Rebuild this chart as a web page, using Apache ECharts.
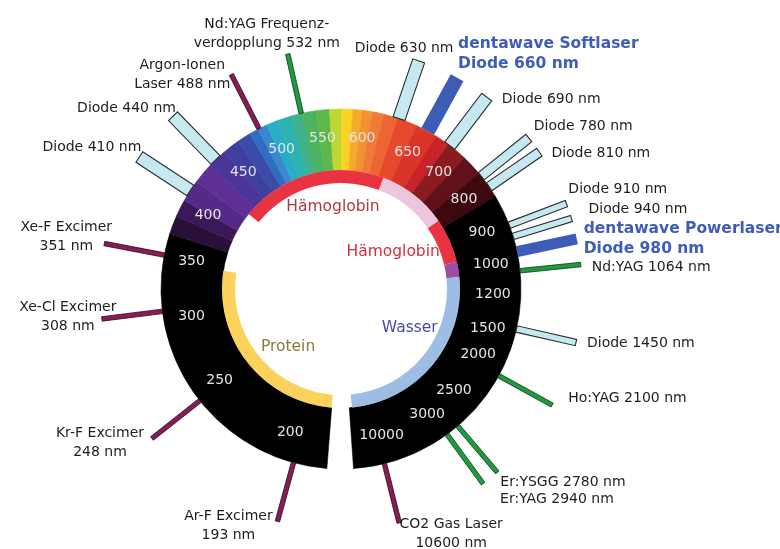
<!DOCTYPE html>
<html><head><meta charset="utf-8">
<script src="https://cdn.jsdelivr.net/npm/echarts@6/dist/echarts.min.js"></script>
<style>html,body{margin:0;padding:0;background:#fff}#c{width:780px;height:549px}</style>
</head><body><div id="c"></div>
<script>
// ---------------- data ----------------
const tickLabels = [200,250,300,350,400,450,500,550,600,650,700,800,900,1000,1200,1500,2000,2500,3000,10000];
const ringRange = [175, 14500];
const spectrumStops = [370,386,401,418,434,449,465,478,487,496,507,522,533,547,561,574,586,596,606,616,629,647,671,688,723,771,836];
const spectrumColors = ['#2a0f36','#3c1858','#552a86','#5e2f95','#4c3598','#3f3f9f','#3a4ba8','#2f6dc0','#3a87cf','#28adc6','#2cb3ad','#40b188','#4cb45e','#5cb84b','#bcd636','#fad224','#f6aa2b','#f39231','#f07a37','#ed6632','#e6492b','#db3429','#c9232a','#8a1b1e','#62101a','#3d0810'];
const bandNames = ['Hämoglobin','','Hämoglobin','','Wasser','Protein'];
const bandStart = [424, 636, 807, 970, 1064, 175];
const bandEnd   = [636, 807, 970, 1064, 14000, 346];
const laserNames = ['Ar-F Excimer\n193 nm','Kr-F Excimer\n248 nm','Xe-Cl Excimer\n308 nm','Xe-F Excimer\n351 nm','Diode 410 nm','Diode 440 nm','Argon-Ionen\nLaser 488 nm','Nd:YAG Frequenz-\nverdopplung 532 nm','Diode 630 nm','dentawave Softlaser\nDiode 660 nm','Diode 690 nm','Diode 780 nm','Diode 810 nm','Diode 910 nm','Diode 940 nm','dentawave Powerlaser\nDiode 980 nm','Nd:YAG 1064 nm','Diode 1450 nm','Ho:YAG 2100 nm','Er:YSGG 2780 nm','Er:YAG 2940 nm','CO2 Gas Laser\n10600 nm'];
const laserNm = [193,248,308,351,410,440,488,532,630,660,690,780,810,910,940,980,1064,1450,2100,2780,2940,10600];
const laserKind = ['uv','uv','uv','uv','diode','diode','uv','green','diode','dentawave','diode','diode','diode','diode','diode','dentawave','green','diode','green','green','green','uv'];

// ---------------- layout / styles ----------------
// non-linear wavelength axis: knots (nm -> degrees clockwise from top)
const scaleNm  = [175, 200, 250, 300, 350, 400, 450, 500, 550, 600, 650, 700, 800, 900, 1000, 1200, 1500, 2000, 2500, 3000, 10000, 14500];
const scaleDeg = [184.5,199.5,233,259.5,280.5,299,320,337,353,368,386,400,414,428,440.5,452,465,475.5,492,505.5,524.5,536];
const R = {ringIn:119, ringOut:180, band0:106, band1:119, tick:152, laser0:180, laser1:241};
const bandColors = ['#ea3340','#ecc6dc','#ea3340','#9b4ea3','#9dbde4','#fdd25c'];
const bandLabelPos = [[82,354.4],null,[64,54.6],null,[79,119.5],[78.5,222.4]];
const bandLabelColors = ['#b03840',null,'#d2303c',null,'#4848a8','#8a7a3c'];
const kindStyle = {
  diode:{fill:'#c5e8f1',stroke:'#2b2b2b',lineWidth:1.1,width:12.5},
  dentawave:{fill:'#3c5cb6',stroke:null,lineWidth:0,width:14.5},
  uv:{fill:'#861d56',stroke:'#2a0a1a',lineWidth:0.8,width:4.5},
  green:{fill:'#1f9a3c',stroke:'#0c3a18',lineWidth:0.8,width:4.5}
};
const widthOverride = {11:9.5,12:9.5,13:6.5,14:6.5,15:11,17:6.5};
const laserLabelLayout = [['center',-49,-14.5],['center',-52,-14.5],['center',-34,-21.5],['center',-38,-25.5],['right',2,-19.5],['right',3,-17.5],['center',-49,-18.5],['center',-21,-39.5],['center',-14.6,-22.3],['left',1,-44],['left',15,-7.5],['left',5,-21],['left',12,-8.5],['left',2,-23.5],['left',17,-19],['left',7,-20],['left',11,-6.5],['left',11,-8.5],['left',16,-16.5],['left',3,0],['left',17,5.8],['center',52,-8.5]];
const FONT = '"DejaVu Sans", sans-serif';

function toDeg(nm){
  let i = 0;
  while (i < scaleNm.length-2 && nm > scaleNm[i+1]) i++;
  const t = (nm - scaleNm[i])/(scaleNm[i+1]-scaleNm[i]);
  return scaleDeg[i] + t*(scaleDeg[i+1]-scaleDeg[i]);
}
function pt(api, r, deg){ return api.coord([r, ((deg%360)+360)%360]); }
function ang(api, cs, nm){ const p = pt(api, 100, toDeg(nm)); return Math.atan2(p[1]-cs.cy, p[0]-cs.cx); }
function rpx(api, cs, r){ const p = pt(api, r, 0); return Math.hypot(p[0]-cs.cx, p[1]-cs.cy); }
function sector(params, api, nm0, nm1, r0, r1, style){
  const cs = params.coordSys;
  const a0 = ang(api, cs, nm0); let a1 = ang(api, cs, nm1);
  while (a1 <= a0) a1 += 2*Math.PI;
  return {type:'sector', shape:{cx:cs.cx, cy:cs.cy, r0:rpx(api,cs,r0), r:rpx(api,cs,r1), startAngle:a0, endAngle:a1, clockwise:true}, style:style};
}

// ring segments
const segs = [];
segs.push([ringRange[0], spectrumStops[0], '#000000']);
for (let i=0;i<spectrumColors.length;i++) segs.push([spectrumStops[i], spectrumStops[i+1], spectrumColors[i]]);
segs.push([spectrumStops[spectrumStops.length-1], ringRange[1], '#000000']);

const dummy = n => Array.from({length:n}, () => [0,0]);

const option = {
  animation:false,
  backgroundColor:'#ffffff',
  polar:{center:[341,289], radius:260},
  angleAxis:{type:'value', min:0, max:360, startAngle:90, clockwise:true, show:false},
  radiusAxis:{type:'value', min:0, max:260, show:false},
  series:[
    { // outer ring
      type:'custom', coordinateSystem:'polar', data:dummy(segs.length), silent:true,
      renderItem:(params, api) => {
        const s = segs[params.dataIndex];
        return sector(params, api, s[0], s[1], R.ringIn, R.ringOut, {fill:s[2], stroke:s[2], lineWidth:0.6});
      }
    },
    { // inner absorption bands
      type:'custom', coordinateSystem:'polar', data:dummy(bandStart.length), silent:true,
      renderItem:(params, api) => {
        const i = params.dataIndex;
        const children = [sector(params, api, bandStart[i], bandEnd[i], R.band0, R.band1, {fill:bandColors[i]})];
        if (bandNames[i] && bandLabelPos[i]) {
          const p = pt(api, bandLabelPos[i][0], bandLabelPos[i][1]);
          children.push({type:'text', x:p[0], y:p[1], style:{text:bandNames[i], fill:bandLabelColors[i], font:'15.5px '+FONT, align:'center', verticalAlign:'middle'}});
        }
        return {type:'group', children};
      }
    },
    { // tick labels
      type:'custom', coordinateSystem:'polar', data:dummy(tickLabels.length), silent:true,
      renderItem:(params, api) => {
        const v = tickLabels[params.dataIndex];
        const p = pt(api, R.tick, toDeg(v));
        return {type:'text', x:p[0], y:p[1], style:{text:String(v), fill:'#e4e4e4', font:'14px '+FONT, align:'center', verticalAlign:'middle'}};
      }
    },
    { // lasers
      type:'custom', coordinateSystem:'polar', data:dummy(laserNm.length), silent:true,
      renderItem:(params, api) => {
        const i = params.dataIndex;
        const d = toDeg(laserNm[i]);
        const st = kindStyle[laserKind[i]];
        const w = widthOverride[i] || st.width;
        const a = pt(api, R.laser0, d), b = pt(api, R.laser1, d);
        const L = Math.hypot(b[0]-a[0], b[1]-a[1]);
        const ux = (b[0]-a[0])/L, uy = (b[1]-a[1])/L;
        const nx = -uy*w/2, ny = ux*w/2;
        const pts = [[a[0]+nx,a[1]+ny],[b[0]+nx,b[1]+ny],[b[0]-nx,b[1]-ny],[a[0]-nx,a[1]-ny]];
        const style = {fill:st.fill};
        if (st.stroke) { style.stroke = st.stroke; style.lineWidth = st.lineWidth; }
        const lay = laserLabelLayout[i];
        const isDw = laserKind[i] === 'dentawave';
        return {type:'group', children:[
          {type:'polygon', shape:{points:pts}, style:style},
          {type:'text', x:b[0]+lay[1], y:b[1]+lay[2], style:{
            text:laserNames[i], fill: isDw ? '#3d5db8' : '#1e1e1e',
            font: isDw ? 'bold 15.5px '+FONT : '14px '+FONT,
            align:lay[0], verticalAlign:'top', lineHeight: isDw ? 20 : 19}}
        ]};
      }
    }
  ]
};
const chart = echarts.init(document.getElementById('c'), null, {renderer:'canvas'});
chart.setOption(option);
</script>
</body></html>
